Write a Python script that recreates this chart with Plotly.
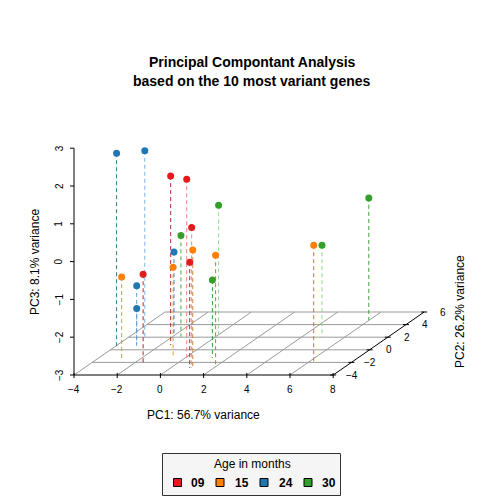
"""PCA 3D scatter (scatterplot3d style) rebuilt with Plotly as an oblique 2D projection."""

import plotly.graph_objects as go

# --- data -------------------------------------------------------------------
age = ["09"] * 5 + ["15"] * 5 + ["24"] * 5 + ["30"] * 5
pc1 = [-1.53, 0.08, 0.98, 0.89, -1.47,
       -2.91, -0.57, 1.03, 2.00, 6.23,
       -3.92, -3.18, -2.99, -3.17, -2.18,
       -1.61, 0.02, 1.27, 4.92, 5.97]
pc2 = [0.76, -1.30, -2.89, -2.89, -2.41,
       -1.35, -1.25, -2.89, -2.68, -1.94,
       0.49, 1.83, 0.49, 0.92, 2.67,
       2.08, 2.35, -1.30, 2.08, 4.73]
pc3 = [1.47, 1.73, 0.72, -0.20, -0.60,
       -0.85, -0.61, 0.12, -0.05, 0.09,
       2.12, 1.96, -1.39, -2.06, -0.86,
       -0.32, 0.43, -0.94, -0.58, 0.23]
# drop lines were drawn with shuffled colours in the original
drop_colors = ["#A83232", "#F08080", "#E98A8A", "#B22222", "#B22222",
               "#A8B040", "#DAA520", "#CD853F", "#B8860B", "#B8860B",
               "#2F7F7F", "#7FB2E5", "#5B9BD5", "#5B9BD5", "#4682B4",
               "#3CB043", "#90D890", "#2E9E2E", "#90D890", "#3CA03C"]

groups = ["09", "15", "24", "30"]
group_colors = {"09": "#E41A1C", "15": "#FF7F00", "24": "#1F78B4", "30": "#33A02C"}

x_ticks = [-4, -2, 0, 2, 4, 6, 8]
y_ticks = [-4, -2, 0, 2, 4, 6]
z_ticks = [-3, -2, -1, 0, 1, 2, 3]

# --- projection (scatterplot3d-like, angle ~35 deg) -------------------------
W = H = 504
PX_X = 21.6          # px per PC1 unit
PX_Z = 37.8          # px per PC3 unit
DEPTH_DX = 9.1       # px shift right per PC2 unit
DEPTH_DY = 6.3       # px shift up per PC2 unit
ORIGIN = (74, 375)   # pixel of (xmin, ymin, zmin)
XMIN, XMAX = x_ticks[0], x_ticks[-1]
YMIN, YMAX = y_ticks[0], y_ticks[-1]
ZMIN, ZMAX = z_ticks[0], z_ticks[-1]
KU = DEPTH_DX / PX_X
KV = DEPTH_DY / PX_Z

FONT = "Liberation Sans, Arial, Helvetica, sans-serif"


def proj(x, y, z):
    return x + (y - YMIN) * KU, z + (y - YMIN) * KV


def px_x(p):
    return p / W


def px_y(p):
    return 1 - p / H


u_range = [XMIN - ORIGIN[0] / PX_X, XMIN + (W - ORIGIN[0]) / PX_X]
v_range = [ZMIN - (H - ORIGIN[1]) / PX_Z, ZMIN + ORIGIN[1] / PX_Z]

fig = go.Figure()


def add_segments(segs, color, width=1, dash=None):
    us, vs = [], []
    for a, b in segs:
        ua, va = proj(*a)
        ub, vb = proj(*b)
        us += [ua, ub, None]
        vs += [va, vb, None]
    fig.add_trace(go.Scatter(x=us, y=vs, mode="lines", hoverinfo="skip", showlegend=False,
                             line=dict(color=color, width=width, dash=dash)))


# floor grid
grid = [((xt, YMIN, ZMIN), (xt, YMAX, ZMIN)) for xt in x_ticks[:-1]]
grid += [((XMIN, yt, ZMIN), (XMAX, yt, ZMIN)) for yt in y_ticks[1:]]
add_segments(grid, "#9a9a9a", 1)

# axes
add_segments([((XMIN, YMIN, ZMIN), (XMAX, YMIN, ZMIN)),
              ((XMIN, YMIN, ZMIN), (XMIN, YMIN, ZMAX)),
              ((XMAX, YMIN, ZMIN), (XMAX, YMAX, ZMIN))], "black", 1)

# tick marks (lengths in px converted to data units)
ticks = [((xt, YMIN, ZMIN + 2 / PX_Z), (xt, YMIN, ZMIN - 3 / PX_Z)) for xt in x_ticks]
ticks += [((XMIN, YMIN, zt), (XMIN - 4 / PX_X, YMIN, zt)) for zt in z_ticks]
ticks += [((XMAX - 3 / PX_X, yt, ZMIN), (XMAX + 3 / PX_X, yt, ZMIN)) for yt in y_ticks]
add_segments(ticks, "black", 1)

# drop lines
for x, y, z, c in zip(pc1, pc2, pc3, drop_colors):
    add_segments([((x, y, z), (x, y, ZMIN))], c, 1, "4px,3px")

# points
for g in groups:
    idx = [i for i, a in enumerate(age) if a == g]
    uv = [proj(pc1[i], pc2[i], pc3[i]) for i in idx]
    fig.add_trace(go.Scatter(
        x=[p[0] for p in uv], y=[p[1] for p in uv], mode="markers", name=g,
        marker=dict(color=group_colors[g], size=7, line=dict(width=0)),
        showlegend=False,
    ))

annotations = []
tick_font = dict(family=FONT, size=10, color="black")
for xt in x_ticks:
    u, v = proj(xt, YMIN, ZMIN)
    annotations.append(dict(x=u, y=v, xref="x", yref="y", text=f"{xt}".replace("-", "\u2212"),
                            showarrow=False, yshift=-14, font=tick_font))
for zt in z_ticks:
    u, v = proj(XMIN, YMIN, zt)
    annotations.append(dict(x=u, y=v, xref="x", yref="y", text=f"{zt}".replace("-", "\u2212"),
                            showarrow=False, xshift=-15, textangle=-90, font=tick_font))
for yt in y_ticks:
    u, v = proj(XMAX, yt, ZMIN)
    annotations.append(dict(x=u, y=v, xref="x", yref="y", text=f"{yt}".replace("-", "\u2212"),
                            showarrow=False, xshift=19, font=tick_font))

lab_font = dict(family=FONT, size=12, color="black")
title_font = dict(family=FONT, size=14, color="black")
paper_notes = [
    dict(x=px_x(252), y=px_y(62), text="<b>Principal Compontant Analysis</b>", font=title_font),
    dict(x=px_x(252), y=px_y(81), text="<b>based on the 10 most variant genes</b>", font=title_font),
    dict(x=px_x(203), y=px_y(415), text="PC1: 56.7% variance", font=lab_font),
    dict(x=px_x(35), y=px_y(262), text="PC3: 8.1% variance", textangle=-90, font=lab_font),
    dict(x=px_x(460), y=px_y(312), text="PC2: 26.2% variance", textangle=-90, font=lab_font),
    dict(x=px_x(252), y=px_y(464), text="Age in months", font=lab_font),
]

# legend box, drawn like R's legend()
shapes = [dict(type="rect", xref="paper", yref="paper",
               x0=px_x(162.5), x1=px_x(340.5), y0=px_y(495.5), y1=px_y(453.5),
               line=dict(color="#333333", width=1), fillcolor="#F5F5F5", layer="below")]
key_x = [177.5, 220, 264, 308]
label_x = [198, 242, 286, 329]
for g, kx, lx in zip(groups, key_x, label_x):
    shapes.append(dict(type="rect", xref="paper", yref="paper",
                       x0=px_x(kx - 4), x1=px_x(kx + 4), y0=px_y(486.5), y1=px_y(478.5),
                       line=dict(color="black", width=1), fillcolor=group_colors[g]))
    paper_notes.append(dict(x=px_x(lx), y=px_y(482.5), text=f"<b>{g}</b>", font=lab_font))

for a in paper_notes:
    a.update(xref="paper", yref="paper", showarrow=False, xanchor="center", yanchor="middle")
annotations += paper_notes

fig.update_layout(
    width=W, height=H,
    margin=dict(l=0, r=0, t=0, b=0),
    paper_bgcolor="white", plot_bgcolor="white",
    xaxis=dict(range=u_range, visible=False, fixedrange=True),
    yaxis=dict(range=v_range, visible=False, fixedrange=True),
    showlegend=False,
    annotations=annotations,
    shapes=shapes,
    font=dict(family=FONT),
)

# the page body has a default 8px margin; drop it so the figure sits at 0,0
fig.write_html("out.html", config={"displayModeBar": False},
               post_script="document.body.style.margin = '0px';")
